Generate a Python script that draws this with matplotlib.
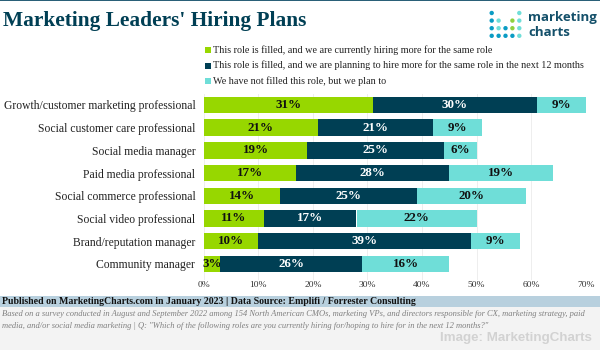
import numpy as np
import matplotlib
matplotlib.use('Agg')
import matplotlib.pyplot as plt

roles = ['Growth/customer marketing professional', 'Social customer care professional',
         'Social media manager', 'Paid media professional', 'Social commerce professional',
         'Social video professional', 'Brand/reputation manager', 'Community manager']
hiring_now = [31, 21, 19, 17, 14, 11, 10, 3]
hiring_next = [30, 21, 25, 28, 25, 17, 39, 26]
plan_to = [9, 9, 6, 19, 20, 22, 9, 16]
series_names = ['This role is filled, and we are currently hiring more for the same role',
                'This role is filled, and we are planning to hire more for the same role in the next 12 months',
                'We have not filled this role, but we plan to']
colors = ['#97D700', '#003F54', '#6FDED8']
label_colors = ['#111111', 'white', '#111111']
xticks = [0, 10, 20, 30, 40, 50, 60, 70]

# logo dots, column / row on a small grid
logo_x = [0, 4, 0, 1, 3, 4, 0, 1, 2, 3, 4, 0, 1, 2, 3, 4]
logo_y = [0, 0, 1, 1, 1, 1, 2, 2, 2, 2, 2, 3, 3, 3, 3, 3]
logo_c = ['#0A9CC4', '#6FDED8', '#0A9CC4', '#6FDED8', '#8FD13F', '#6FDED8', '#0A9CC4', '#6FDED8',
          '#0A9CC4', '#8FD13F', '#6FDED8', '#0A9CC4', '#0A9CC4', '#0A9CC4', '#0A9CC4', '#6FDED8']

plt.rcParams['font.family'] = ['Liberation Serif', 'DejaVu Serif']
W, H = 600, 350
fig = plt.figure(figsize=(W / 100, H / 100), dpi=100, facecolor='white')

# overlay in pixel coordinates for header and footer
bg = fig.add_axes([0, 0, 1, 1])
bg.set_xlim(0, W)
bg.set_ylim(H, 0)
bg.axis('off')
bg.axhspan(0, 1, color='#2A6078', lw=0)
bg.axhspan(295.5, 307, color='#B8D0DE', lw=0)
bg.axhspan(307, 350, color='#F3F3F3', lw=0)

bg.text(3, 21, "Marketing Leaders' Hiring Plans", fontsize=15.4, fontweight='bold',
        color='#003F54', va='center')
bg.text(2, 301.5, 'Published on MarketingCharts.com in January 2023 | Data Source: Emplifi / Forrester Consulting',
        fontsize=7.1, fontweight='bold', color='#111111', va='center')
bg.text(2.5, 314.5, 'Based on a survey conducted in August and September 2022 among 154 North American CMOs, marketing VPs, and directors responsible for CX, marketing strategy, paid',
        fontsize=6.1, style='italic', color='#808080', va='center')
bg.text(2.5, 326, 'media, and/or social media marketing | Q: "Which of the following roles are you currently hiring for/hoping to hire for in the next 12 months?"',
        fontsize=6.1, style='italic', color='#808080', va='center')
bg.text(592, 338, 'Image: MarketingCharts', fontsize=9.6, fontweight='bold', color='#D2D2D2',
        family='Liberation Sans', ha='right', va='center')

# legend
for i, name in enumerate(series_names):
    yy = 50 + i * 15.6
    bg.scatter([207.5], [yy], marker='s', s=19, color=colors[i], lw=0)
    bg.text(213, yy, name, fontsize=7.25, color='#222222', va='center')

# logo
bg.scatter(491.7 + np.array(logo_x) * 6.9, 13 + np.array(logo_y) * 7.6, s=10, c=logo_c, lw=0)
bg.text(528, 18, 'marketing', fontsize=9.5, fontweight='bold', color='#14506A',
        family='Open Sans', va='center')
bg.text(528, 32, 'charts', fontsize=9.5, fontweight='bold', color='#14506A',
        family='Open Sans', va='center')

# chart
ax = fig.add_axes([203.7 / W, 1 - 280 / H, (585.7 - 203.7) / W, (280 - 93.6) / H])
ax.patch.set_alpha(0)
y = np.arange(len(roles))
left = np.zeros(len(roles))
for vals, c, lc in zip([hiring_now, hiring_next, plan_to], colors, label_colors):
    bars = ax.barh(y, vals, left=left, height=0.72, color=c, zorder=3)
    ax.bar_label(bars, labels=[f'{v}%' for v in vals], label_type='center', color=lc,
                 fontsize=9.4, fontweight='bold')
    left += np.array(vals)

ax.set_xlim(0, 70)
ax.set_ylim(7.71, -0.5)
ax.set_yticks(y, roles, fontsize=8.4, color='#222222')
ax.set_xticks(xticks, [f'{t}%' for t in xticks], fontsize=6.8, color='#333333')
ax.tick_params(axis='both', length=0)
ax.tick_params(axis='y', pad=6)
ax.tick_params(axis='x', pad=1)
ax.grid(axis='x', color='#EEEEEE', lw=0.7, zorder=0)
for s in ax.spines.values():
    s.set_visible(False)

fig.savefig('out.png', dpi=100)
